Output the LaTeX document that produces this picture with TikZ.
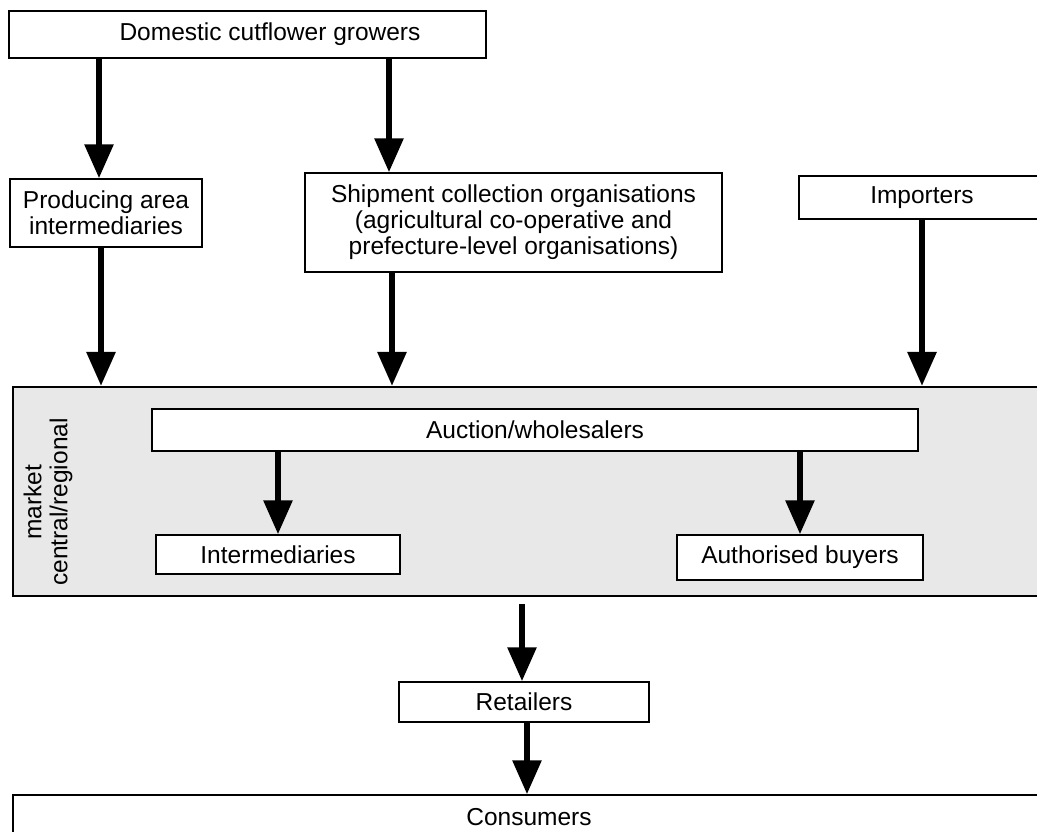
\documentclass[tikz,border=0pt]{standalone}
\usepackage{fontspec}
\setmainfont{Liberation Sans}
\usetikzlibrary{arrows.meta,calc}
\begin{document}
\begin{tikzpicture}[x=1pt,y=-1pt,
  box/.style={draw,line width=1.5pt,fill=white,inner sep=0pt,
    font=\fontsize{24.5}{26}\selectfont,align=center},
  arr/.style={line width=6pt,-{Triangle[width=28pt,length=34pt]}},
]
\useasboundingbox (0,0) rectangle (1037,831);
% market area
\node[draw,line width=2.2pt,fill=black!9,minimum width=1032pt,minimum height=209pt,inner sep=0pt] (mkt) at (529,491.5) {};
\node[rotate=90,align=center,font=\fontsize{24.5}{26}\selectfont] (mlab) at (48,502) {market\\central/regional};
% boxes
\node[box,minimum width=477pt,minimum height=47pt] (dom) at (247.5,34.5) {\hspace*{45pt}Domestic cutflower growers};
\node[box,minimum width=192pt,minimum height=68pt] (prod) at (106,213) {Producing area\\intermediaries};
\node[box,minimum width=417pt,minimum height=99pt] (ship) at (513.5,222.5) {Shipment collection organisations\\(agricultural co-operative and\\prefecture-level organisations)};
\node[box,minimum width=246pt,minimum height=43pt] (imp) at (922,197.5) {Importers};
\node[box,minimum width=766pt,minimum height=42pt] (auc) at (535,430) {Auction/wholesalers};
\node[box,minimum width=244pt,minimum height=39pt] (inter) at (278,554.5) {Intermediaries};
\node[box,minimum width=246pt,minimum height=45pt] (auth) at (800,557.5) {Authorised buyers};
\node[box,minimum width=250pt,minimum height=40pt] (ret) at (524,702) {Retailers};
\node[box,minimum width=1032pt,minimum height=45pt] (cons) at (529,817.5) {Consumers};
% arrow x positions
\coordinate (xa) at (99,0);
\coordinate (xb) at (389,0);
\coordinate (xc) at (101,0);
\coordinate (xd) at (392,0);
\coordinate (xe) at (522,0);
\coordinate (xf) at (527,0);
% arrows
\draw[arr] (dom.south -| xa) -- (prod.north -| xa);
\draw[arr] (dom.south -| xb) -- (ship.north -| xb);
\draw[arr] (prod.south -| xc) -- (mkt.north -| xc);
\draw[arr] (ship.south -| xd) -- (mkt.north -| xd);
\draw[arr] (imp.south) -- (mkt.north -| imp.south);
\draw[arr] (auc.south -| inter.north) -- (inter.north);
\draw[arr] (auc.south -| auth.north) -- (auth.north);
\draw[arr,shorten <=7pt] (mkt.south -| xe) -- (ret.north -| xe);
\draw[arr] (ret.south -| xf) -- (cons.north -| xf);
\end{tikzpicture}
\end{document}
